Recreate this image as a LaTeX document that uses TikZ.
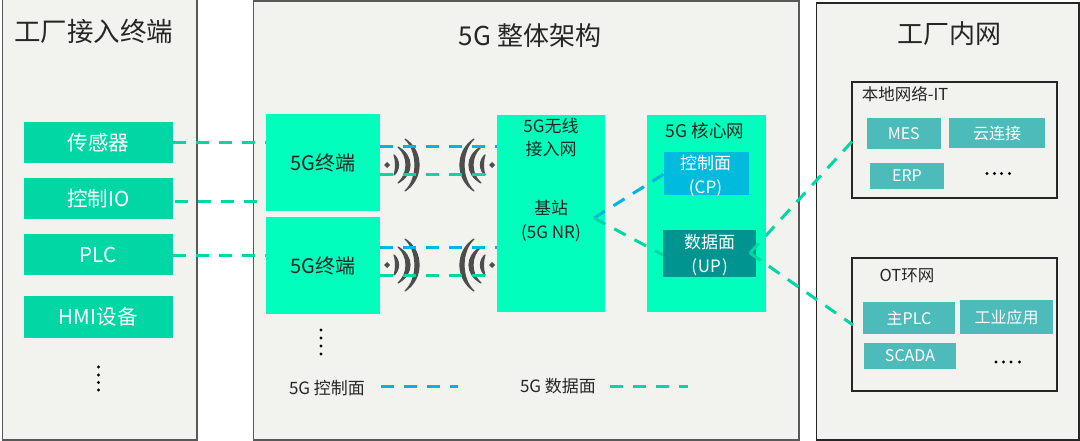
\documentclass[tikz,border=0pt]{standalone}
\usepackage{fontspec}
\setmainfont{Noto Sans CJK SC}
\definecolor{panelbg}{HTML}{F2F2EE}
\definecolor{mint}{HTML}{00FFBC}
\definecolor{green}{HTML}{00D7A5}
\definecolor{teal}{HTML}{4DBBB9}
\definecolor{cpblue}{HTML}{00BBDD}
\definecolor{updark}{HTML}{009490}
\definecolor{lineblue}{HTML}{00B4E0}
\definecolor{inkc}{HTML}{262626}
\definecolor{wifigray}{HTML}{4D4D4D}
\newcommand{\rbox}[7]{%
  \pgfmathsetmacro{\rcx}{(#3+#5)/2}\pgfmathsetmacro{\rcy}{(#4+#6)/2}%
  \pgfmathsetmacro{\rw}{#5-#3}\pgfmathsetmacro{\rh}{#6-#4}%
  \node[#1,minimum width=\rw pt,minimum height=\rh pt] (#2) at (\rcx,\rcy) {#7};}
\tikzset{
  fs/.style={font=\fontsize{#1}{#1}\selectfont},
  txt/.style={inner sep=0pt,text=inkc,align=center},
  wtxt/.style={inner sep=0pt,text=white,align=center},
  panelbox/.style={draw=black!65,line width=1.2pt,fill=panelbg,inner sep=0pt},
  groupbox/.style={draw=black!85,line width=2.4pt,fill=panelbg,inner sep=0pt},
  devbox/.style={fill=green,text=white,inner sep=0pt,fs=20.5},
  mintbox/.style={fill=mint,text=inkc,inner sep=0pt,fs=20},
  appbox/.style={fill=teal,text=white,inner sep=0pt,fs=16},
  cpbox/.style={fill=cpblue,inner sep=0pt},
  upbox/.style={fill=updark,inner sep=0pt},
  gdash/.style={draw=green,line width=3pt,dash pattern=on 13pt off 10pt},
  bdash/.style={draw=lineblue,line width=3pt,dash pattern=on 13pt off 10pt},
  dotc/.style={fill=black,draw=none,circle,minimum size=3.4pt,inner sep=0pt},
  wifisym/.pic={
    \begin{scope}[fill=wifigray,draw=wifigray,line width=1.2pt,line join=round]
    \fill (-3,0) -- (0,-3) -- (3,0) -- (0,3) -- cycle;
    \filldraw (7,-10) .. controls (13,-5) and (13,5) .. (7,10) .. controls (9,5) and (9,-5) .. cycle;
    \filldraw (11,-18) .. controls (27,-9) and (27,9) .. (11,18) .. controls (21.7,9) and (21.7,-9) .. cycle;
    \filldraw (18,-26) .. controls (36.7,-14) and (36.7,14) .. (18,26) .. controls (31.3,14) and (31.3,-14) .. cycle;
    \end{scope}
  }
}
\begin{document}
\begin{tikzpicture}[x=1pt,y=-1pt]
\useasboundingbox (0,0) rectangle (1080,441);
\fill[white] (0,0) rectangle (1080,441);
% panels
\rbox{panelbox}{pa}{2.5}{-2}{197}{440}{}
\rbox{panelbox}{pb}{253.5}{1}{799}{440}{}
\rbox{panelbox,draw=black!85,line width=1.6pt}{pc}{816.5}{3}{1079}{440}{}
\node[txt,fs=26.5] (ta) at (94,31) {工厂接入终端};
\node[txt,fs=26] (tb) at (530,36) {5G 整体架构};
\node[txt,fs=26] (tc) at (949,34) {工厂内网};
% devices
\rbox{devbox}{d1}{23.5}{122}{173}{163}{传感器}
\rbox{devbox}{d2}{23.5}{178}{173}{219}{控制IO}
\rbox{devbox}{d3}{23.5}{234}{173}{275}{PLC}
\rbox{devbox}{d4}{23.5}{296}{173}{338}{HMI设备}
\foreach \n/\yy in {a/367,b/375,c/382.5,d/390}{\node[dotc] (ld\n) at (98.5,\yy) {};}
% 5G
\rbox{mintbox}{t1}{266}{114}{380}{211}{5G终端}
\rbox{mintbox}{t2}{266}{217}{380}{314}{5G终端}
\rbox{mintbox}{bs}{497}{115}{605}{312}{}
\rbox{mintbox}{core}{647}{115}{766}{312}{}
\node[txt,fs=17] (bs1) at (551,137.5) {5G无线\\[6pt]接入网};
\node[txt,fs=17] (bs2) at (551,221.5) {基站\\[7pt](5G NR)};
\node[txt,fs=17.5] (core1) at (705,131) {5G 核心网};
\rbox{cpbox}{cp}{664}{152}{749}{195}{}
\rbox{upbox}{up}{663}{230}{756}{277}{}
\node[wtxt,fs=17] (cpl) at (705.5,176) {控制面\\[7pt](CP)};
\node[wtxt,fs=17] (upl) at (709.5,255.5) {数据面\\[7pt](\kern1pt UP\kern1pt)};
\foreach \n/\yy in {a/330,b/338,c/346,d/354}{\node[dotc] (md\n) at (321,\yy) {};}
% wifi icons
\pic at (387,165) {wifisym};
\pic at (387,265) {wifisym};
\pic[xscale=-1] at (492,165) {wifisym};
\pic[xscale=-1] at (492,265) {wifisym};
% air-interface dashes
\coordinate (a1) at (380,147);
\coordinate (a2) at (380,174.6);
\coordinate (a3) at (380,247);
\coordinate (a4) at (380,275);
\coordinate (e2) at (488,174.6);
\coordinate (e4) at (488,275);
\draw[bdash] (a1) -- (a1 -| bs.west);
\draw[gdash] (a2) -- (e2);
\draw[bdash] (a3) -- (a3 -| bs.west);
\draw[gdash] (a4) -- (e4);
% device dashes
\coordinate (i2) at (175,202);
\coordinate (i2e) at (258,202);
\coordinate (t1p) at (266,143);
\coordinate (t2p) at (266,255);
\draw[gdash] (d1.east |- t1p) -- (t1p);
\draw[gdash] (i2) -- (i2e);
\draw[gdash] (d3.east |- t2p) -- (t2p);
% IT / OT
\rbox{groupbox}{it}{852}{82}{1057}{198}{}
\rbox{groupbox}{ot}{852}{258}{1057}{391}{}
\node[txt,fs=16.5] (itl) at (905,94) {本地网络-IT};
\node[txt,fs=16.5] (otl) at (907,276) {OT环网};
\rbox{appbox}{mes}{867}{118}{940.5}{149}{MES}
\rbox{appbox}{cloud}{949}{118}{1045}{148}{云连接}
\rbox{appbox}{erp}{870}{163}{944}{189}{ERP}
\rbox{appbox}{mplc}{863}{302}{955}{334}{主PLC}
\rbox{appbox}{ind}{960}{300}{1053}{334}{工业应用}
\rbox{appbox}{scada}{864}{343}{956}{369}{SCADA}
\foreach \n/\xx in {a/987,b/994.5,c/1001.5,d/1009.5}{\node[dotc] (it\n) at (\xx,173.5) {};}
\foreach \n/\xx in {a/996,b/1003.5,c/1011,d/1019.5}{\node[dotc] (ot\n) at (\xx,362) {};}
% core dashes
\coordinate (bsv) at (594,218);
\coordinate (upv) at (750,253);
\coordinate (itp) at (852,141.5);
\coordinate (otp) at (853,325);
\coordinate (cpp) at (664,174);
\coordinate (upp) at (663,255);
\draw[bdash] (bsv) -- (cpp);
\draw[gdash] (bsv) -- (upp);
\draw[gdash] (upv) -- (itp);
\draw[gdash] (upv) -- (otp);
% legend
\node[txt,fs=17] (lg1) at (327,388) {5G 控制面};
\node[txt,fs=17] (lg2) at (558,386) {5G 数据面};
\coordinate (lb1) at (381,386);
\coordinate (lb2) at (458,386);
\coordinate (lg3) at (610,386);
\coordinate (lg4) at (688,386);
\draw[bdash] (lb1) -- (lb2);
\draw[gdash] (lg3) -- (lg4);
\end{tikzpicture}
\end{document}
